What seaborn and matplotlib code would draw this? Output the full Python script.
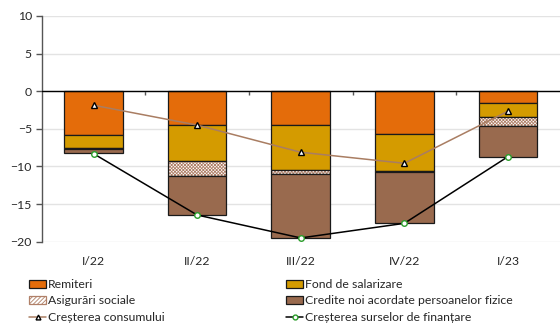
import numpy as np
import pandas as pd
import matplotlib
matplotlib.use("Agg")
import matplotlib.pyplot as plt
import seaborn as sns
from matplotlib.patches import Patch
from matplotlib.lines import Line2D

quarters = ["I/22", "II/22", "III/22", "IV/22", "I/23"]
remiteri = [-5.85, -4.52, -4.44, -5.68, -1.60]
fond_salarizare = [-1.73, -4.79, -6.06, -4.96, -1.86]
asigurari = [-0.12, -1.91, -0.54, -0.05, -1.15]
credite = [-0.55, -5.23, -8.46, -6.87, -4.09]
crestere_consum = [-1.86, -4.50, -8.11, -9.58, -2.66]
crestere_surse = [-8.30, -16.45, -19.50, -17.56, -8.70]

C_REM = "#E46C0A"
C_FOND = "#D49B00"
C_ASIG_HATCH = "#B08068"
C_CRED = "#996A4E"
C_CONS = "#A97D62"
HATCH = "xxxxxxxxxx"

sns.set_theme(style="white")
plt.rcParams["font.family"] = ["Lato", "DejaVu Sans"]
plt.rcParams["hatch.linewidth"] = 0.6

fig = plt.figure(figsize=(5.6, 3.31), dpi=100)
ax = fig.add_axes([0.0745, 0.2698, 0.925, 0.6819])

df = pd.DataFrame({
    "q": quarters,
    "Remiteri": remiteri,
    "Fond de salarizare": fond_salarizare,
    "Asigurări sociale": asigurari,
    "Credite noi acordate persoanelor fizice": credite,
})

series = [
    ("Remiteri", C_REM, None),
    ("Fond de salarizare", C_FOND, None),
    ("Asigurări sociale", "white", HATCH),
    ("Credite noi acordate persoanelor fizice", C_CRED, None),
]

x = np.arange(len(quarters))
bottom = np.zeros(len(quarters))
for name, color, hatch in series:
    vals = df[name].to_numpy()
    if hatch:
        # hatched fill in brown, then a dark outline on top
        ax.bar(x, vals, bottom=bottom, width=0.565, color=color,
               edgecolor=C_ASIG_HATCH, linewidth=0, hatch=hatch, zorder=3)
        ax.bar(x, vals, bottom=bottom, width=0.565, fill=False,
               edgecolor="#1a1a1a", linewidth=0.9, zorder=3)
    else:
        ax.bar(x, vals, bottom=bottom, width=0.565, color=color,
               edgecolor="#1a1a1a", linewidth=0.9, zorder=3)
    bottom = bottom + vals

sns.lineplot(x=x, y=crestere_consum, ax=ax, color=C_CONS, linewidth=1.1,
             marker="^", markersize=4, markerfacecolor="white",
             markeredgecolor="black", markeredgewidth=1.0, zorder=5)
sns.lineplot(x=x, y=crestere_surse, ax=ax, color="black", linewidth=1.1,
             marker="o", markersize=4, markerfacecolor="white",
             markeredgecolor="#2a9d2a", markeredgewidth=1.0, zorder=5)

ax.set_xlim(-0.5, 4.5)
ax.set_ylim(-20, 10)
ax.set_yticks(np.arange(-20, 11, 5))
ax.yaxis.grid(True, color="#e3e3e3", linewidth=1.0, zorder=0)
ax.set_axisbelow(True)

for s in ["top", "right", "bottom"]:
    ax.spines[s].set_visible(False)
ax.spines["left"].set_color("#555555")
ax.spines["left"].set_linewidth(1.0)
ax.tick_params(axis="y", direction="out", length=4, width=1, color="#555555",
               labelsize=8.8, pad=3, left=True)
ax.set_xticks(x)
ax.set_xticklabels(quarters)
ax.tick_params(axis="x", length=0, labelsize=8.8, pad=10)
ax.set_xlabel("")
ax.set_ylabel("")

ax.axhline(0, color="black", linewidth=1.0, zorder=4)
sec = ax.secondary_xaxis(2 / 3)
sec.set_xticks(np.arange(0.5, 4.5, 1.0))
sec.set_xticklabels([])
sec.tick_params(axis="x", direction="out", length=3, width=1, color="#555555",
                bottom=True, top=False)
for s in sec.spines.values():
    s.set_visible(False)
sec.xaxis.set_ticks_position("bottom")

hkw = dict(handlelength=1.4, handleheight=0.6, handletextpad=0.15,
           labelspacing=0.45, frameon=False, fontsize=8.8, borderaxespad=0,
           borderpad=0)
h_rem = Patch(facecolor=C_REM, edgecolor="#1a1a1a", linewidth=0.9)
h_fond = Patch(facecolor=C_FOND, edgecolor="#1a1a1a", linewidth=0.9)
h_asig = Patch(facecolor="white", edgecolor=C_ASIG_HATCH, hatch="////////",
               linewidth=0.9)
h_cred = Patch(facecolor=C_CRED, edgecolor="#1a1a1a", linewidth=0.9)
h_cons = Line2D([], [], color=C_CONS, marker="^", markersize=3.5,
                markerfacecolor="white", markeredgecolor="black", linewidth=1.1)
h_surse = Line2D([], [], color="black", marker="o", markersize=3.5,
                 markerfacecolor="white", markeredgecolor="#2a9d2a",
                 linewidth=1.1)

leg1 = fig.legend([h_rem, h_asig, h_cons],
                  ["Remiteri", "Asigurări sociale", "Creșterea consumului"],
                  loc="upper left", bbox_to_anchor=(29 / 560, 1 - 279 / 331),
                  **hkw)
leg2 = fig.legend([h_fond, h_cred, h_surse],
                  ["Fond de salarizare", "Credite noi acordate persoanelor fizice",
                   "Creșterea surselor de finanțare"],
                  loc="upper left", bbox_to_anchor=(286 / 560, 1 - 279 / 331),
                  **hkw)

fig.savefig("out.png", dpi=100)
